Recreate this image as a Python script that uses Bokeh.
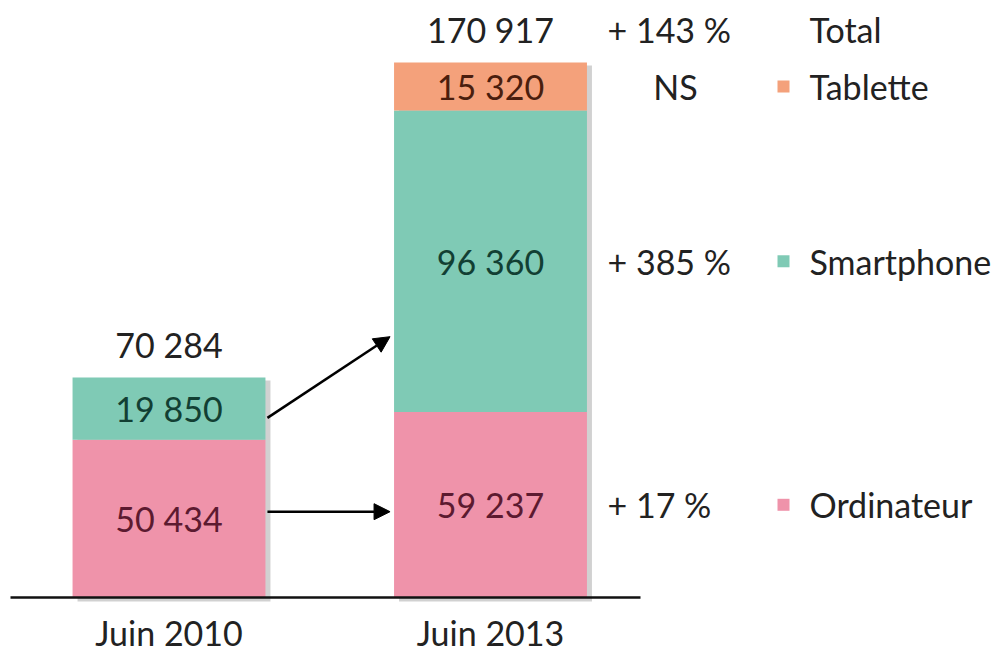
from bokeh.plotting import figure
from bokeh.models import Range1d, Arrow, NormalHead
from bokeh.core.properties import value
from bokeh.embed import file_html
from bokeh.resources import INLINE

# ---- data ----
periods = ["Juin 2010", "Juin 2013"]
ordinateur = [50434, 59237]
smartphone = [19850, 96360]
tablette = [0, 15320]
totals = [70284, 170917]
ordinateur_lbl = ["50 434", "59 237"]
smartphone_lbl = ["19 850", "96 360"]
tablette_lbl = ["", "15 320"]
totals_lbl = ["70 284", "170 917"]
evolution = ["+ 143 %", "NS", "+ 385 %", "+ 17 %"]
series = ["Total", "Tablette", "Smartphone", "Ordinateur"]

C_ORD = "#ef93aa"
C_SMA = "#7fcab5"
C_TAB = "#f4a17b"
FONT = value("Lato")

W, H = 1000, 654
BASE = 597          # pixel row of the baseline
TOP = 62            # pixel row of the tallest bar top
CX0 = 168.5         # pixel column of first bar centre
px_unit_x = 321.5
x0 = -CX0 / px_unit_x
x1 = (W - CX0) / px_unit_x
k = max(totals) / float(BASE - TOP)
y0 = -(H - BASE) * k
y1 = BASE * k

p = figure(width=W, height=H, output_backend="svg", toolbar_location=None,
           x_range=Range1d(x0, x1), y_range=Range1d(y0, y1),
           min_border=0, outline_line_color=None, background_fill_color="white")
p.xaxis.visible = False
p.yaxis.visible = False
p.grid.visible = False

def px(col):
    return (col - CX0) / px_unit_x

xs = [0, 1]
bw = 0.6
o_top = ordinateur
s_top = [o + s for o, s in zip(ordinateur, smartphone)]
t_top = [s + t for s, t in zip(s_top, tablette)]

# shadows
dx = 5 / px_unit_x
p.vbar(x=[x + dx for x in xs], width=bw, bottom=-4 * k, top=[t - 3 * k for t in t_top],
       fill_color="#7a7a7a", fill_alpha=0.35, line_color=None)

p.vbar(x=xs, width=bw, bottom=0, top=o_top, fill_color=C_ORD, line_color=None)
p.vbar(x=xs, width=bw, bottom=o_top, top=s_top, fill_color=C_SMA, line_color=None)
p.vbar(x=xs[1:], width=bw, bottom=s_top[1:], top=t_top[1:], fill_color=C_TAB, line_color=None)

# baseline
p.line(x=[px(10), px(640)], y=[0, 0], line_color="#111111", line_width=2.5)

fs = "34px"
# in-bar labels
p.text(x=xs, y=[o / 2 for o in ordinateur], text=ordinateur_lbl, text_align="center",
       text_baseline="middle", text_font=FONT, text_font_size=fs, text_color="#5c1a30")
p.text(x=xs, y=[o + s / 2 for o, s in zip(ordinateur, smartphone)], text=smartphone_lbl,
       text_align="center", text_baseline="middle", text_font=FONT, text_font_size=fs,
       text_color="#123f33")
p.text(x=xs[1:], y=[s_top[1] + tablette[1] / 2], text=tablette_lbl[1:], text_align="center",
       text_baseline="middle", text_font=FONT, text_font_size=fs, text_color="#4a1e0e")
# totals
p.text(x=xs, y=totals, text=totals_lbl, text_align="center", text_baseline="middle",
       y_offset=-33, text_font=FONT, text_font_size=fs, text_color="#222222")
# category labels
p.text(x=xs, y=[0, 0], text=periods, text_align="center", text_baseline="middle",
       y_offset=35, text_font=FONT, text_font_size=fs, text_color="#222222")

# evolution + legend rows, aligned on 2013 segments
row_y = [totals[1], s_top[1] + tablette[1] / 2, ordinateur[1] + smartphone[1] / 2, ordinateur[1] / 2]
row_off = [-33, 0, 0, 0]
for i in range(4):
    if evolution[i] == "NS":
        p.text(x=[px(675)], y=[row_y[i]], text=[evolution[i]], text_align="center",
               text_baseline="middle", y_offset=row_off[i], text_font=FONT, text_font_size=fs,
               text_color="#222222")
    else:
        p.text(x=[px(607)], y=[row_y[i]], text=[evolution[i]], text_align="left",
               text_baseline="middle", y_offset=row_off[i], text_font=FONT, text_font_size=fs,
               text_color="#222222")
sq_col = [None, C_TAB, C_SMA, C_ORD]
for i in range(4):
    p.text(x=[px(809)], y=[row_y[i]], text=[series[i]], text_align="left", text_baseline="middle",
           y_offset=row_off[i], text_font=FONT, text_font_size=fs, text_color="#222222")
    if sq_col[i]:
        p.scatter(x=[px(783)], y=[row_y[i]], marker="square", size=12, fill_color=sq_col[i],
                  line_color=None)

# arrows
ax0 = xs[0] + bw / 2 + 2 / px_unit_x
ax1 = xs[1] - bw / 2 - 4 / px_unit_x
ya = (ordinateur[0] / 2 + ordinateur[1] / 2) / 2
p.add_layout(Arrow(end=NormalHead(size=16, fill_color="black", line_color="black"),
                   x_start=ax0, y_start=ya, x_end=ax1, y_end=ya,
                   line_width=2.5, line_color="black"))
ys0 = ordinateur[0] + smartphone[0] * 0.35
ys1 = ordinateur[1] + smartphone[1] * 0.25
p.add_layout(Arrow(end=NormalHead(size=16, fill_color="black", line_color="black"),
                   x_start=ax0, y_start=ys0, x_end=ax1, y_end=ys1,
                   line_width=2.5, line_color="black"))

open("out.html", "w").write(file_html(p, INLINE))
